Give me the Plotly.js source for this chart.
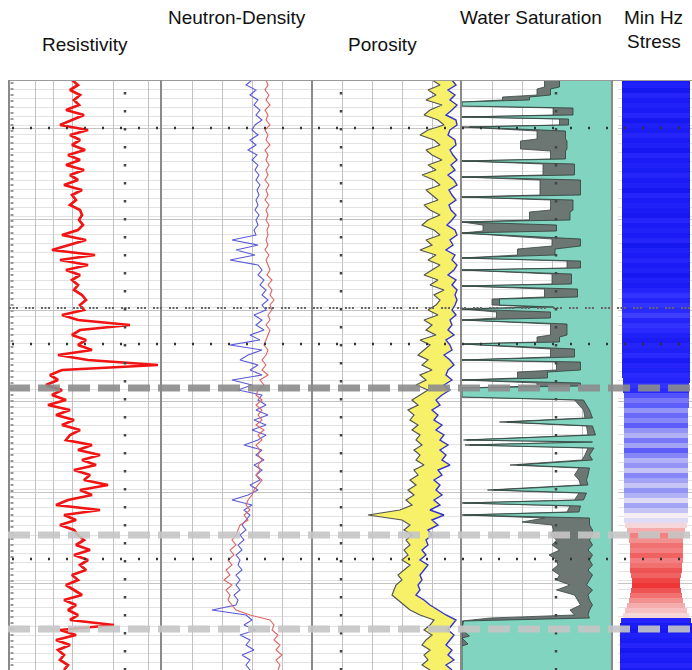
<!DOCTYPE html>
<html>
<head>
<meta charset="utf-8">
<script src="https://cdn.plot.ly/plotly-3.0.1.min.js"></script>
<style>html,body{margin:0;padding:0;background:#fff;}#chart{width:692px;height:670px;}</style>
</head>
<body>
<div id="chart"></div>
<script>
// ---------- DATA (depth in arbitrary units, 0 = top of log) ----------
const depth = [
  0,5,10,15,20,25,30,35,40,45,
  50,55,60,65,70,75,80,85,90,95,
  100,105,110,115,120,125,130,135,140,145,
  150,155,160,165,170,175,180,185,190,195,
  200,205,210,215,220,225,230,235,240,245,
  250,255,260,265,270,275,280,285,290,295,
  300,305,310,315,320,325,330,335,340,345,
  350,355,360,365,370,375,380,385,390,395,
  400,405,410,415,420,425,430,435,440,445,
  450,455,460,465,470,475,480,485,490,495,
  500,505,510,515,520,525,530,535,540,545,
  550,555,560,565,570,575,580,585,590
];

const resistivity = [
  64,70,62,72,66,71,58,76,64,52,
  80,62,72,64,77,60,72,58,76,62,
  70,56,74,64,68,62,72,74,71,75,
  70,54,78,62,44,87,52,80,58,72,
  64,70,66,74,78,72,76,54,70,122,
  72,64,78,70,84,50,80,150,54,42,
  50,38,54,44,58,40,62,48,66,54,
  72,62,58,84,70,92,74,88,66,82,
  76,100,72,84,60,48,92,56,68,52,
  66,70,76,68,82,66,80,72,78,64,
  70,58,66,74,56,68,60,70,62,106,
  52,68,48,62,50,56,52,60,56
];

const neutron = [
  91,85,95,89,97,93,99,95,101,94,
  91,97,89,95,87,96,91,97,94,98,
  95,99,96,98,95,97,94,98,95,97,
  93,95,71,97,75,94,69,97,101,97,
  103,99,105,101,107,101,105,93,101,95,
  103,89,99,69,101,87,79,97,89,101,
  71,91,77,101,97,105,95,107,93,105,
  91,105,97,83,101,95,103,93,101,95,
  99,89,97,87,71,91,83,89,85,81,
  85,79,83,77,81,75,79,77,81,75,
  79,75,79,73,77,75,51,85,91,83,
  95,79,89,85,93,81,89,85,89
];

const density = [
  105,107,104,108,105,109,104,107,105,109,
  104,107,105,109,104,107,105,108,105,107,
  104,108,105,107,104,108,105,107,105,108,
  106,107,105,107,104,108,105,107,109,106,
  111,107,111,109,113,109,111,107,109,105,
  109,107,105,103,107,105,101,105,101,107,
  99,103,97,95,101,95,101,97,101,95,
  103,97,101,95,99,97,101,97,99,95,
  101,97,93,91,87,85,89,83,87,79,
  77,75,71,75,69,73,67,71,65,69,
  63,71,65,69,67,71,75,89,109,113,
  111,117,113,119,115,121,115,119,117
];

const porosityLow = [
  120,128,116,124,114,130,118,112,126,132,
  116,108,122,128,114,120,130,116,124,110,
  122,128,114,120,126,112,118,128,116,110,
  122,128,114,120,108,124,116,128,120,112,
  126,118,132,122,128,124,116,126,112,120,
  114,124,108,118,112,106,116,110,120,108,
  114,104,116,108,100,106,96,102,98,106,
  100,108,104,110,102,108,104,112,102,106,
  98,104,96,102,94,100,88,56,90,98,
  92,100,94,98,92,96,90,98,92,86,
  90,84,82,80,86,92,98,108,122,118,
  112,120,114,110,118,112,116,110,118
];

const porosityHigh = [
  140,144,136,143,138,145,140,134,144,145,
  138,136,143,144,138,141,145,139,143,136,
  142,145,137,140,144,137,139,144,140,135,
  143,145,138,141,134,143,140,145,142,136,
  144,140,145,143,145,143,140,144,138,140,
  136,142,134,138,140,132,138,142,136,134,
  140,132,138,130,124,128,120,126,122,130,
  124,132,128,136,128,134,130,138,126,130,
  122,128,124,130,122,128,118,132,120,126,
  116,120,114,116,110,114,108,116,112,108,
  110,106,108,104,112,118,126,134,144,140,
  136,142,138,134,140,136,142,134,140
];

// water saturation: read at its own depths (bed boundaries)
const swDepth = [
  0,7,9,15,17,20,22,26,28,35,
  37,39,45,47,51,59,61,69,71,79,
  81,84,95,97,100,115,117,120,130,132,
  140,142,145,151,153,159,166,169,175,178,
  181,188,190,194,204,206,209,217,219,225,
  227,229,232,238,240,244,255,257,262,264,
  269,277,280,282,290,292,298,300,303,306,
  308,317,320,330,338,342,346,355,360,362,
  365,368,375,380,385,388,395,400,405,410,
  413,420,423,426,432,435,438,442,445,450,
  455,460,465,470,475,480,485,490,495,500,
  505,510,515,520,525,530,535,538,541,550,
  556,558,564,566,590
];
const swWater = [
  0.35,0.35,0.41,0.41,0.55,0.55,1.00,1.00,0.26,0.26,
  1.00,0.29,0.29,0.95,0.31,0.31,0.30,0.30,0.31,0.31,
  1.00,0.25,0.25,1.00,0.21,0.21,1.00,0.26,0.26,0.28,
  0.28,1.00,0.37,0.37,1.00,0.21,0.21,0.38,0.38,1.00,
  0.21,0.21,1.00,0.27,0.27,1.00,0.23,0.23,0.75,0.75,
  0.39,1.00,0.41,0.41,1.00,0.30,0.30,0.35,0.35,1.00,
  0.25,0.25,1.00,0.21,0.21,0.43,0.43,1.00,0.21,0.21,
  1.00,1.00,0.19,0.15,0.13,0.70,0.13,0.11,0.97,0.13,
  0.95,0.12,0.15,0.13,0.63,0.15,0.16,0.17,0.16,0.79,
  0.17,0.19,0.99,0.21,0.22,0.99,0.15,0.15,0.15,0.13,
  0.13,0.15,0.13,0.16,0.13,0.15,0.13,0.16,0.13,0.15,
  0.17,0.13,0.16,0.15,0.13,0.15,0.16,0.15,0.99,1.00,
  0.95,1.00,0.96,1.00,1.00
];
const swShade = [
  0.45,0.45,0.50,0.50,0.73,0.73,1.00,1.00,0.39,0.39,
  1.00,0.35,0.35,1.00,0.50,0.50,0.61,0.61,0.41,0.41,
  1.00,0.46,0.46,1.00,0.48,0.48,1.00,0.41,0.41,0.55,
  0.55,1.00,0.86,0.86,1.00,0.40,0.40,0.63,0.63,1.00,
  0.30,0.30,1.00,0.40,0.40,1.00,0.45,0.45,0.80,0.80,
  0.50,1.00,0.77,0.77,1.00,0.41,0.41,0.50,0.50,1.00,
  0.41,0.41,1.00,0.37,0.37,0.63,0.63,1.00,0.50,0.50,
  1.00,1.00,0.25,0.19,0.18,0.75,0.17,0.16,0.99,0.17,
  0.98,0.16,0.18,0.20,0.68,0.22,0.25,0.22,0.21,0.83,
  0.22,0.25,1.00,0.28,0.30,1.00,0.45,0.60,0.40,0.39,
  0.41,0.37,0.40,0.35,0.42,0.37,0.36,0.40,0.35,0.37,
  0.28,0.37,0.25,0.23,0.21,0.28,0.25,0.81,1.00,1.00,
  1.00,1.00,1.00,1.00,1.00
];

const minHzStress = [
  0.62,0.63,0.61,0.64,0.62,0.63,0.62,0.64,0.61,0.63,
  0.62,0.64,0.62,0.63,0.61,0.64,0.62,0.63,0.62,0.64,
  0.62,0.63,0.61,0.64,0.62,0.63,0.62,0.61,0.64,0.62,
  0.63,0.62,0.64,0.61,0.63,0.62,0.64,0.62,0.63,0.61,
  0.63,0.62,0.64,0.66,0.64,0.66,0.65,0.67,0.64,0.66,
  0.65,0.63,0.62,0.64,0.63,0.65,0.62,0.64,0.63,0.65,
  0.64,0.66,0.65,0.69,0.72,0.70,0.74,0.71,0.73,0.70,
  0.74,0.76,0.72,0.75,0.70,0.73,0.76,0.74,0.77,0.73,
  0.75,0.77,0.74,0.76,0.78,0.75,0.77,0.79,0.78,0.80,
  0.82,0.85,0.84,0.86,0.85,0.87,0.85,0.86,0.88,0.87,
  0.89,0.90,0.88,0.86,0.84,0.82,0.81,0.80,0.64,0.62,
  0.61,0.63,0.62,0.64,0.61,0.63,0.62,0.64,0.62
];

const stressSpan = [
  68,68,68,68,68,68,68,68,68,68,
  68,68,68,68,68,68,68,68,68,68,
  68,68,68,68,68,68,68,68,68,68,
  68,68,68,68,68,68,68,68,68,68,
  68,68,68,68,68,68,68,68,68,68,
  68,68,68,68,68,68,68,68,68,68,
  67,66,66,65,65,65,64,64,64,64,
  64,64,64,64,64,64,64,64,64,64,
  64,64,64,64,64,64,64,64,64,62,
  58,55,54,53,53,53,53,52,52,50,
  48,48,50,52,54,58,62,66,70,72,
  72,72,72,72,72,72,72,72,72
];

const trackTitles = ["Resistivity","Neutron-Density","Porosity","Water Saturation","Min Hz","Stress"];
const markerDepthsDotted = [48, 264, 479];
const markerDepthDense = 228;
const topDashDepth = 308;
const lightDashDepths = [455, 549];

// ---------- LAYOUT ----------
const W = 692, H = 670;
const px = p => p / W;
const py = p => 1 - p / H;
const yDom = [0, 590 / H];

const FONT = "Liberation Sans, Arial, sans-serif";

function xax(dom, range, grid) {
  return {
    domain: dom, range: range, anchor: 'y',
    showticklabels: false, ticks: '', zeroline: false, showline: false,
    showgrid: !!grid, tickmode: grid ? 'array' : undefined, tickvals: grid || [],
    gridcolor: '#c2c2c2', gridwidth: 1, fixedrange: true
  };
}

const traces = [
  {x: resistivity, y: depth, xaxis: 'x', yaxis: 'y', mode: 'lines',
   line: {color: '#f01414', width: 2.7}, hoverinfo: 'skip'},
  {x: neutron, y: depth, xaxis: 'x2', yaxis: 'y', mode: 'lines',
   line: {color: '#5a5ad6', width: 1.1}, hoverinfo: 'skip'},
  {x: density, y: depth, xaxis: 'x2', yaxis: 'y', mode: 'lines',
   line: {color: '#e06262', width: 1.1}, hoverinfo: 'skip'},
  {x: porosityLow, y: depth, xaxis: 'x3', yaxis: 'y', mode: 'lines',
   line: {color: '#555555', width: 1.2}, hoverinfo: 'skip'},
  {x: porosityHigh, y: depth, xaxis: 'x3', yaxis: 'y', mode: 'lines',
   fill: 'tonextx', fillcolor: '#f6f168',
   line: {color: '#3535cc', width: 1.4}, hoverinfo: 'skip'},
  {x: swShade, y: swDepth, xaxis: 'x4', yaxis: 'y', mode: 'lines',
   fill: 'tozerox', fillcolor: '#6c7673',
   line: {color: '#3a4542', width: 0.8}, hoverinfo: 'skip'},
  {x: swWater, y: swDepth, xaxis: 'x4', yaxis: 'y', mode: 'lines',
   fill: 'tozerox', fillcolor: '#80d4c0',
   line: {color: '#2e3d39', width: 0.8}, hoverinfo: 'skip'},
  {type: 'bar', orientation: 'h', xaxis: 'x5', yaxis: 'y',
   y: depth, x: stressSpan, base: stressSpan.map(w => -w / 2), width: 5,
   marker: {color: minHzStress, cmin: 0.60, cmax: 0.90,
     colorscale: [[0, '#1212ee'], [0.17, '#2a2aff'], [0.35, '#6262fb'],
                  [0.55, '#b8b8f4'], [0.63, '#f6f0f4'], [0.72, '#f4b2b2'], [1, '#ee3636']],
     line: {width: 0}},
   hoverinfo: 'skip'}
];

const shapes = [];
// top border
shapes.push({type: 'line', xref: 'paper', yref: 'y', x0: px(8), x1: 1, y0: 0, y1: 0,
  line: {color: '#9a9a9a', width: 2}});
// track borders
[9, 161, 312, 461, 612].forEach(p => shapes.push({type: 'line', xref: 'paper', yref: 'y',
  x0: px(p), x1: px(p), y0: 0, y1: 590, line: {color: '#8a8a8a', width: 2}}));
// left depth tick strip
shapes.push({type: 'line', xref: 'paper', yref: 'y', x0: px(12), x1: px(12), y0: 2, y1: 590,
  line: {color: '#9a9a9a', width: 3, dash: '2px,4px'}});
// dotted marker rows
markerDepthsDotted.forEach(d => shapes.push({type: 'line', xref: 'paper', yref: 'y',
  x0: px(12), x1: 1, y0: d, y1: d, line: {color: '#333', width: 2.5, dash: '2px,16px'}}));
shapes.push({type: 'line', xref: 'paper', yref: 'y', x0: px(9), x1: 1,
  y0: markerDepthDense, y1: markerDepthDense,
  line: {color: '#666', width: 2, dash: '2px,1.5px,2px,1.5px,2px,7px'}});
// vertical dotted lines
[125, 341, 556].forEach(p => shapes.push({type: 'line', xref: 'paper', yref: 'y',
  x0: px(p), x1: px(p), y0: 12, y1: 590, line: {color: '#444', width: 2.5, dash: '2.5px,15.5px'}}));
// heavy dashed lines
shapes.push({type: 'line', xref: 'paper', yref: 'y', x0: px(8), x1: 1,
  y0: topDashDepth, y1: topDashDepth, opacity: 0.9,
  line: {color: '#8c8c8c', width: 7, dash: '22px,8px'}});
lightDashDepths.forEach(d => shapes.push({type: 'line', xref: 'paper', yref: 'y',
  x0: px(8), x1: 1, y0: d, y1: d, opacity: 0.9,
  line: {color: '#c6c6c6', width: 7, dash: '22px,8px'}}));

const titlePos = [[85, 44], [237, 18], [382, 44], [531, 18], [653, 18], [654, 41]];
const annotations = trackTitles.map((t, i) => ({
  text: t, xref: 'paper', yref: 'paper', x: px(titlePos[i][0]), y: py(titlePos[i][1]),
  xanchor: 'center', yanchor: 'middle', showarrow: false,
  font: {family: FONT, size: 19, color: '#111'}
}));

const layout = {
  width: W, height: H, margin: {l: 0, r: 0, t: 0, b: 0, pad: 0},
  paper_bgcolor: '#fff', plot_bgcolor: '#fff', showlegend: false, hovermode: false,
  bargap: 0,
  font: {family: FONT},
  xaxis: xax([px(8), px(161)], [0, 153], [27, 45, 64, 105, 140]),
  xaxis2: xax([px(161), px(312)], [0, 151], [31, 61, 91, 121]),
  xaxis3: xax([px(312), px(460)], [0, 148], [30, 60, 90, 120]),
  xaxis4: xax([px(462), px(612)], [1, 0], [0.2, 0.4, 0.6, 0.8]),
  xaxis5: xax([px(618), 1], [-38, 36], null),
  yaxis: {
    domain: yDom, range: [590, 0], anchor: 'x', showticklabels: false, ticks: '',
    zeroline: false, showline: false, showgrid: true, gridcolor: '#c4c4c4',
    tick0: 48, dtick: 91, fixedrange: true,
    minor: {dtick: 9.1, showgrid: true, gridcolor: '#e3e3e3', ticks: ''}
  },
  shapes: shapes,
  annotations: annotations
};

Plotly.newPlot('chart', traces, layout, {displayModeBar: false, staticPlot: true});
</script>
</body>
</html>
